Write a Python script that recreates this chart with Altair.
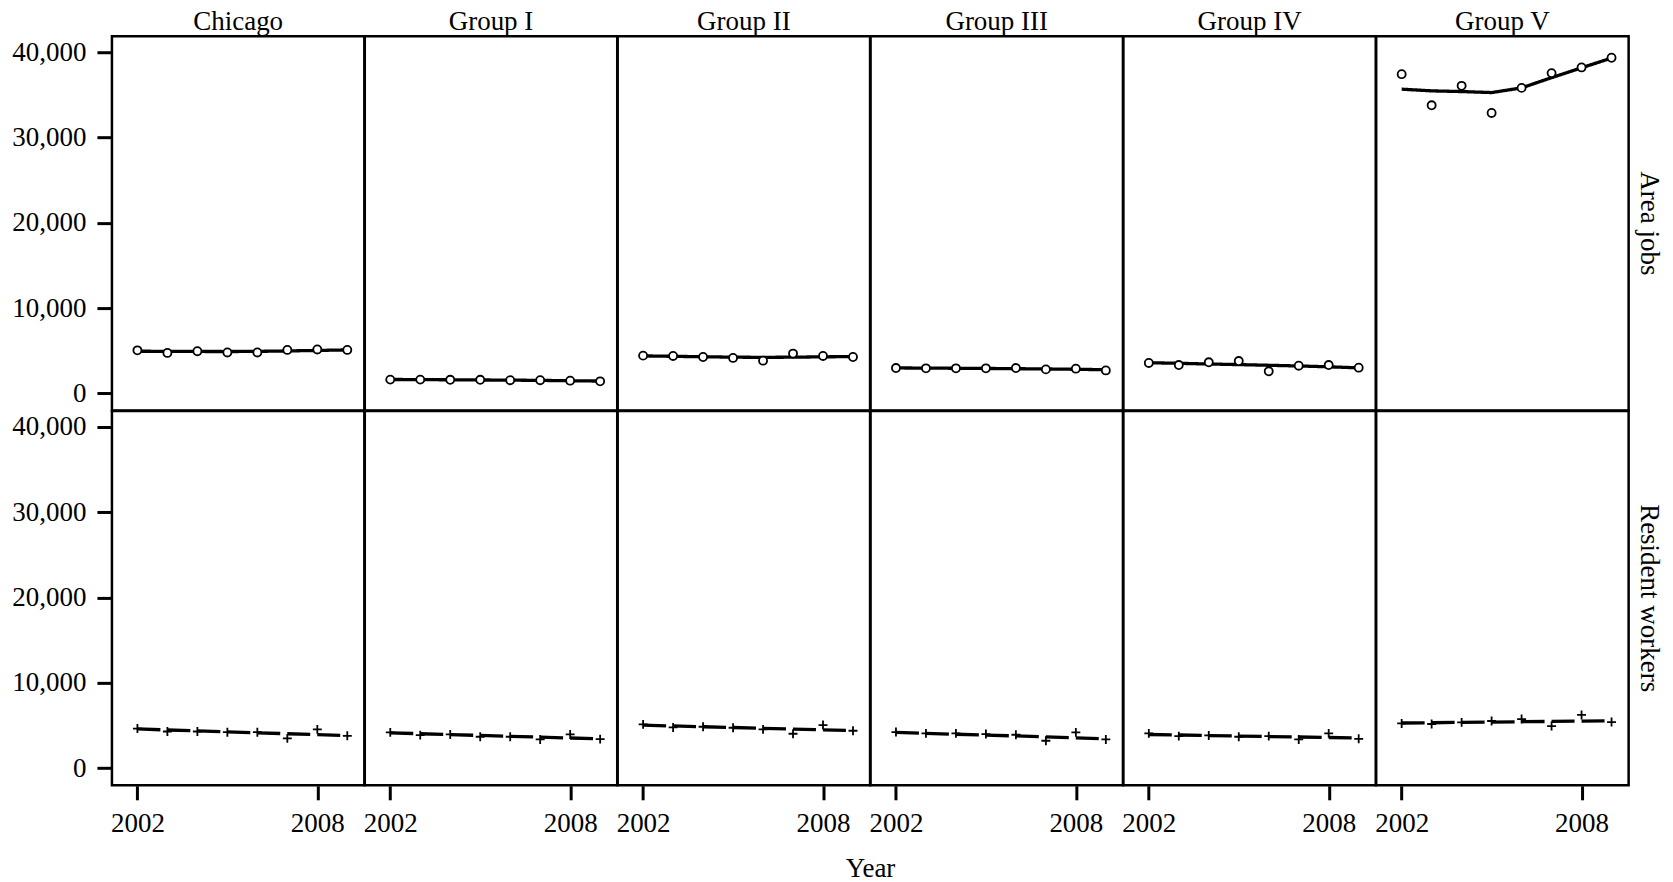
import altair as alt
import pandas as pd

years = [2002, 2003, 2004, 2005, 2006, 2007, 2008, 2009]
areas = ["Chicago", "Group I", "Group II", "Group III", "Group IV", "Group V"]
measures = ["Area jobs", "Resident workers"]

# Area jobs: observed values and smoothed trend
jobs_chicago = [5050, 4750, 4950, 4800, 4800, 5100, 5150, 5100]
jobs_chicago_fit = [4950, 4930, 4920, 4910, 4930, 4980, 5040, 5100]
jobs_group1 = [1620, 1620, 1600, 1600, 1550, 1550, 1500, 1420]
jobs_group1_fit = [1640, 1620, 1600, 1580, 1560, 1530, 1490, 1450]
jobs_group2 = [4430, 4390, 4270, 4160, 3840, 4670, 4390, 4270]
jobs_group2_fit = [4400, 4350, 4300, 4250, 4230, 4250, 4290, 4320]
jobs_group3 = [2980, 2940, 2940, 2940, 2980, 2820, 2900, 2700]
jobs_group3_fit = [2990, 2970, 2950, 2930, 2900, 2870, 2830, 2780]
jobs_group4 = [3570, 3330, 3650, 3800, 2590, 3250, 3330, 3020]
jobs_group4_fit = [3600, 3530, 3450, 3380, 3300, 3220, 3120, 3000]
jobs_group5 = [37410, 33760, 36040, 32860, 35800, 37530, 38200, 39330]
jobs_group5_fit = [35650, 35450, 35370, 35250, 35800, 37000, 38150, 39300]

# Resident workers: observed values and smoothed trend
workers_chicago = [4650, 4300, 4300, 4220, 4220, 3500, 4550, 3800]
workers_chicago_fit = [4600, 4480, 4370, 4260, 4150, 4040, 3930, 3830]
workers_group1 = [4200, 3880, 3960, 3690, 3690, 3370, 3960, 3410]
workers_group1_fit = [4150, 4040, 3940, 3840, 3740, 3640, 3540, 3450]
workers_group2 = [5140, 4780, 4860, 4740, 4550, 4040, 5060, 4390]
workers_group2_fit = [5050, 4950, 4860, 4770, 4680, 4590, 4500, 4400]
workers_group3 = [4240, 4080, 4080, 4000, 3920, 3220, 4200, 3370]
workers_group3_fit = [4200, 4090, 3980, 3880, 3780, 3670, 3560, 3450]
workers_group4 = [4080, 3760, 3840, 3690, 3760, 3370, 4080, 3450]
workers_group4_fit = [3950, 3890, 3830, 3770, 3710, 3660, 3600, 3550]
workers_group5 = [5250, 5180, 5370, 5530, 5760, 4940, 6240, 5410]
workers_group5_fit = [5300, 5330, 5370, 5410, 5450, 5480, 5520, 5550]

y_ticks = [0, 10000, 20000, 30000, 40000]
x_ticks = [2002, 2008]

jobs_obs = [jobs_chicago, jobs_group1, jobs_group2, jobs_group3, jobs_group4, jobs_group5]
jobs_fit = [jobs_chicago_fit, jobs_group1_fit, jobs_group2_fit, jobs_group3_fit,
            jobs_group4_fit, jobs_group5_fit]
workers_obs = [workers_chicago, workers_group1, workers_group2, workers_group3,
               workers_group4, workers_group5]
workers_fit = [workers_chicago_fit, workers_group1_fit, workers_group2_fit,
               workers_group3_fit, workers_group4_fit, workers_group5_fit]

rows = []
for measure, obs_sets, fit_sets in [("Area jobs", jobs_obs, jobs_fit),
                                    ("Resident workers", workers_obs, workers_fit)]:
    for area, obs, fit in zip(areas, obs_sets, fit_sets):
        for yr, v, f in zip(years, obs, fit):
            rows.append({"measure": measure, "area": area, "year": yr,
                         "value": v, "fit": f})
df = pd.DataFrame(rows)

FONT = "Liberation Serif"

x_enc = alt.X(
    "year:Q",
    scale=alt.Scale(domain=[2001.15, 2009.57], nice=False, zero=False),
    axis=alt.Axis(values=x_ticks, labelExpr="toString(datum.value)", title=None,
                  tickSize=14, labelPadding=11),
)
y_scale = alt.Scale(domain=[-2000, 41850], nice=False, zero=False)
# thousands separator written out explicitly
y_axis = alt.Axis(
    values=y_ticks,
    labelExpr="datum.value == 0 ? '0' : toString(floor(datum.value / 1000)) + ',000'",
    title=None, tickSize=15, labelPadding=11,
)

trend = alt.Chart().mark_line(color="black", strokeWidth=3.3).encode(
    x=x_enc,
    y=alt.Y("fit:Q", scale=y_scale, axis=y_axis),
    strokeDash=alt.StrokeDash(
        "measure:N",
        scale=alt.Scale(domain=measures, range=[[1, 0], [23, 7]]),
        legend=None,
    ),
)

markers = alt.Chart().mark_point(
    fill="white", stroke="black", strokeWidth=1.8, opacity=1, fillOpacity=1
).encode(
    x=x_enc,
    y=alt.Y("value:Q", scale=y_scale, axis=y_axis),
    shape=alt.Shape(
        "measure:N",
        scale=alt.Scale(domain=measures, range=["circle", "M-1,0H1M0,-1V1"]),
        legend=None,
    ),
    size=alt.Size(
        "measure:N",
        scale=alt.Scale(domain=measures, range=[65, 80]),
        legend=None,
    ),
)

panel = alt.layer(trend, markers).properties(width=252.6, height=374.5)

chart = (
    alt.layer(panel, data=df)
    .facet(
        row=alt.Row(
            "measure:N",
            sort=measures,
            header=alt.Header(title=None, labelOrient="right", labelPadding=6),
        ),
        column=alt.Column(
            "area:N",
            sort=areas,
            header=alt.Header(title="Year", titleOrient="bottom", labelOrient="top",
                              labelPadding=0, titlePadding=9),
        ),
        spacing=0,
        bounds="flush",
    )
    .properties(padding={"left": 11, "top": 8, "right": 10, "bottom": 5},
                background="white")
    .configure_view(stroke="black", strokeWidth=2.5)
    .configure_axis(
        labelFont=FONT, labelFontSize=27, labelColor="black",
        tickColor="black", tickWidth=3,
        domain=False, grid=False,
    )
    .configure_header(
        labelFont=FONT, labelFontSize=27, labelColor="black",
        titleFont=FONT, titleFontSize=27, titleColor="black", titleFontWeight="normal",
    )
)

chart.save("out.html", embed_options={"renderer": "svg", "actions": False})
